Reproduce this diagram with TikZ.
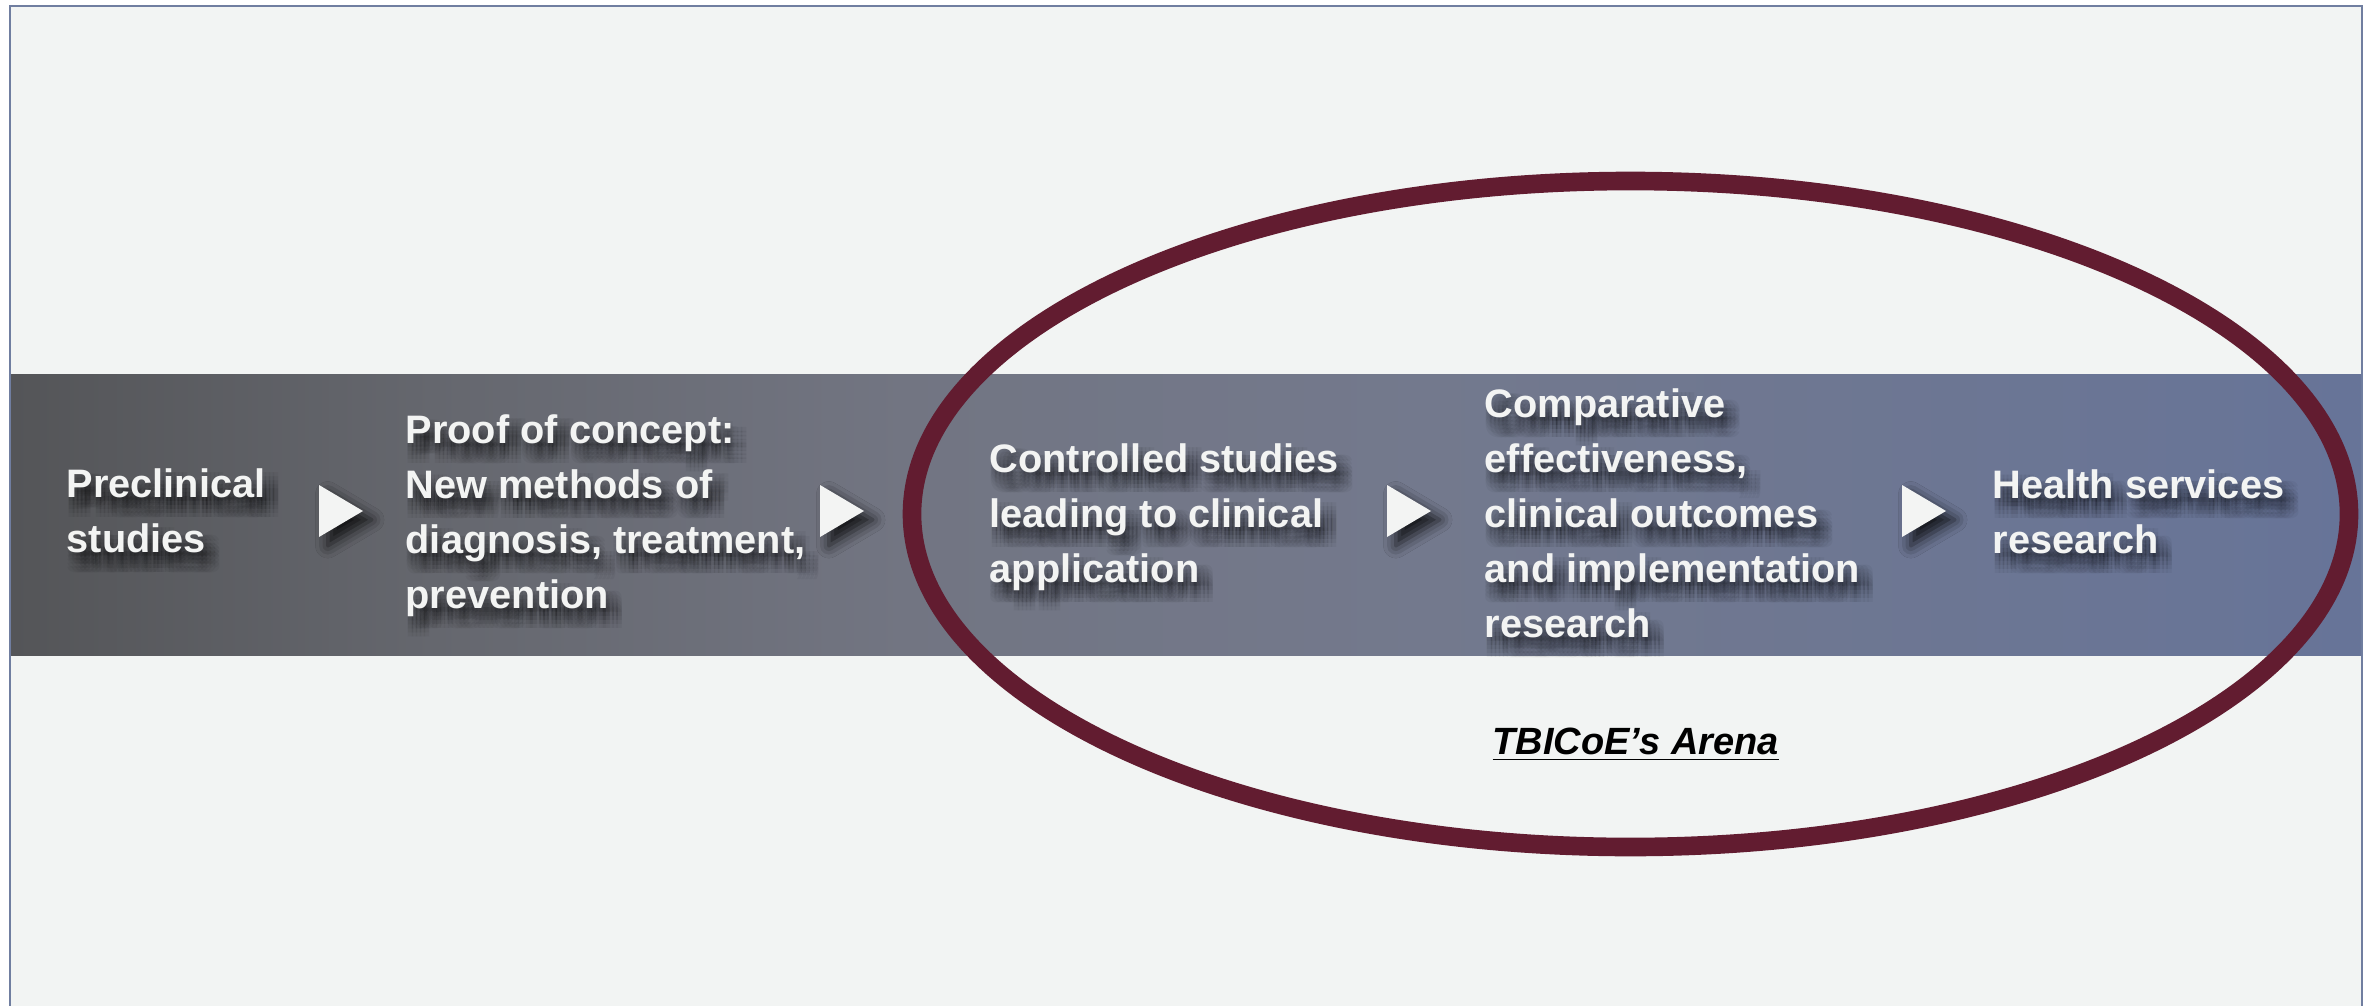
\documentclass[tikz,border=0pt]{standalone}
\usepackage{fontspec}
\setsansfont{Liberation Sans}
\usetikzlibrary{calc, shadows.blur}

\definecolor{pagebg}{RGB}{242,244,243}
\definecolor{framecol}{RGB}{112,126,160}
\definecolor{bandA}{RGB}{84,85,88}
\definecolor{bandB}{RGB}{101,103,110}
\definecolor{bandC}{RGB}{114,117,130}
\definecolor{bandD}{RGB}{115,121,141}
\definecolor{bandE}{RGB}{103,116,152}
\definecolor{arenared}{RGB}{98,28,48}
\definecolor{stagetxt}{RGB}{243,244,243}

% band colour running from charcoal to slate blue
\pgfdeclarehorizontalshading{bandshade}{100bp}{
	color(0bp)=(bandA); color(25bp)=(bandA); color(34bp)=(bandB);
	color(44bp)=(bandC); color(55bp)=(bandD); color(75bp)=(bandE);
	color(100bp)=(bandE)}

\tikzset{
	stage/.style={anchor=base west, align=left, inner sep=0pt, text=stagetxt,
		font=\sffamily\bfseries\fontsize{11.3}{15.6}\selectfont},
	stageshadow/.style={stage, text=black, text opacity=0.04},
	stagearrow/.style={fill=stagetxt,
		blur shadow={shadow xshift=2.5pt, shadow yshift=-2.5pt,
			shadow blur radius=3.5pt, shadow opacity=80}},
}

% stage text with a soft drop shadow under it (anchored at its last line)
\newcommand{\stagetext}[3]{%
	\foreach \dx in {0,4,8,12,16}{%
		\foreach \dy in {4,8,12,16,20}{%
			\node[stageshadow] (#1-sh-\dx-\dy) at ($(#2)+(\dx,\dy)$) {#3};
		}
	}
	\node[stage] (#1) at (#2) {#3};
}

\begin{document}
\begin{tikzpicture}[x=0.01cm, y=-0.01cm]
	\useasboundingbox (0,0) rectangle (2375,1006);
	
	% --- Page and frame ---
	\fill[white] (0,0) rectangle (2375,1006);
	\draw[framecol, fill=pagebg, line width=0.6pt]
	(10,1030) -- (10,6) -- (2362,6) -- (2362,1030);
	
	% --- Band ---
	\shade[shading=bandshade] (11,374) rectangle (2361,655);
	
	% --- Stages ---
	\stagetext{preclin}{66,552}{Preclinical\\studies}
	\stagetext{proof}{405,608}{Proof of concept:\\New methods of\\diagnosis, treatment,\\prevention}
	\stagetext{controlled}{989,582}{Controlled studies\\leading to clinical\\application}
	\stagetext{compare}{1484,637}{Comparative\\effectiveness,\\clinical outcomes\\and implementation\\research}
	\stagetext{health}{1992,553}{Health services\\research}
	
	% Arrows between stages
	\foreach \ax in {319, 820, 1387, 1902}
	\fill[stagearrow] (\ax,485) -- ++(44,26) -- ++(-44,26) -- cycle;
	
	% --- Arena ellipse ---
	\draw[arenared, line width=5.3pt] (1630.5,514) ellipse [x radius=718.5, y radius=333];
	
	\node[anchor=base west, inner sep=0pt,
	font=\sffamily\bfseries\itshape\fontsize{10.8}{13}\selectfont]
	(arena) at (1492,754) {\underline{TBICoE’s Arena}};
	
\end{tikzpicture}
\end{document}
